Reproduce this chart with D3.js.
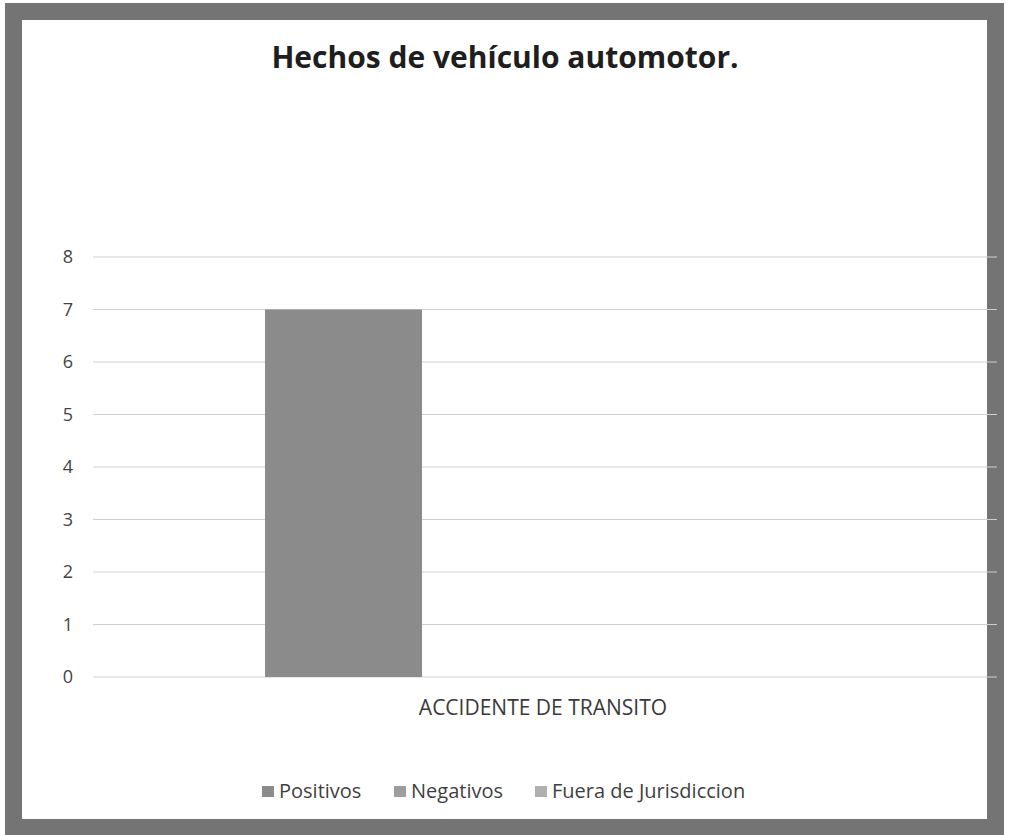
<!DOCTYPE html>
<html>
<head>
    <meta charset="UTF-8" />
    <script src="https://d3js.org/d3.v7.min.js"></script>
    <style>
        body { margin: 0; background: #ffffff; }
        svg { display: block; }
    </style>
</head>
<body>
<svg></svg>
<script>
    // Chart data
    let categories = ["ACCIDENTE DE TRANSITO"];
    let seriesNames = ["Positivos", "Negativos", "Fuera de Jurisdiccion"];
    let positivos = [7];
    let negativos = [0];
    let fuera = [0];
    let yTicks = [0, 1, 2, 3, 4, 5, 6, 7, 8];

    let seriesValues = [positivos, negativos, fuera];
    let seriesColors = ["#8b8b8b", "#9d9d9d", "#afafaf"];
    let fontFamily = "'Open Sans', 'Noto Sans', sans-serif";

    let width = 1009, height = 835;
    let margin = { top: 257, right: 16, bottom: 158, left: 93 };

    let svg = d3.select("svg")
        .attr("width", width)
        .attr("height", height);

    // scanned frame
    svg.append("rect")
        .attr("x", 0).attr("y", 0)
        .attr("width", width).attr("height", height)
        .attr("fill", "#ffffff");
    svg.append("rect")
        .attr("x", 13.5).attr("y", 11.5)
        .attr("width", 982).attr("height", 816)
        .attr("fill", "none")
        .attr("stroke", "#747474")
        .attr("stroke-width", 17);

    let x0 = d3.scaleBand()
        .domain(categories)
        .range([margin.left, width - margin.right]);

    let x1 = d3.scaleBand()
        .domain(seriesNames)
        .range([0, x0.bandwidth()])
        .paddingInner(0.213)
        .paddingOuter(0.862);

    let y = d3.scaleLinear()
        .domain([0, 8])
        .range([height - margin.bottom, margin.top]);

    // gridlines
    svg.append("g")
        .selectAll("line")
        .data(yTicks)
        .enter()
        .append("line")
        .attr("x1", margin.left)
        .attr("x2", width - margin.right + 4)
        .attr("y1", d => y(d))
        .attr("y2", d => y(d))
        .attr("stroke", "#cfcfcf")
        .attr("stroke-width", 1);

    // y axis labels
    let yAxis = svg.append("g")
        .attr("transform", "translate(" + margin.left + ",0)")
        .call(d3.axisLeft(y).tickValues(yTicks).tickSize(0).tickPadding(20));
    yAxis.select(".domain").remove();
    yAxis.selectAll("text")
        .attr("fill", "#444444")
        .style("font-family", fontFamily)
        .style("font-size", "18px");

    // bars
    let rows = [];
    categories.forEach((c, i) => {
        seriesNames.forEach((s, j) => {
            rows.push({ category: c, series: s, value: seriesValues[j][i], color: seriesColors[j] });
        });
    });

    svg.append("g")
        .selectAll("rect")
        .data(rows)
        .enter()
        .append("rect")
        .attr("x", d => x0(d.category) + x1(d.series))
        .attr("y", d => y(d.value))
        .attr("width", x1.bandwidth())
        .attr("height", d => y(0) - y(d.value))
        .attr("fill", d => d.color);

    // category axis
    let xAxis = svg.append("g")
        .attr("transform", "translate(0," + y(0) + ")")
        .call(d3.axisBottom(x0).tickSize(0).tickPadding(23));
    xAxis.select(".domain").remove();
    xAxis.selectAll("text")
        .attr("fill", "#3a3a3a")
        .style("font-family", fontFamily)
        .style("font-size", "21px");

    // title
    svg.append("text")
        .attr("x", 505)
        .attr("y", 68)
        .attr("text-anchor", "middle")
        .attr("fill", "#1e1e1e")
        .style("font-family", fontFamily)
        .style("font-size", "30px")
        .style("font-weight", "bold")
        .text("Hechos de vehículo automotor.");

    // legend
    let legendX = [262, 394, 535];
    let legend = svg.append("g")
        .selectAll("g")
        .data(seriesNames)
        .enter()
        .append("g")
        .attr("transform", (d, i) => "translate(" + legendX[i] + ",798)");
    legend.append("rect")
        .attr("x", 0).attr("y", -12)
        .attr("width", 12).attr("height", 11)
        .attr("fill", (d, i) => seriesColors[i]);
    legend.append("text")
        .attr("x", 17)
        .attr("y", 0)
        .attr("fill", "#3f3f3f")
        .style("font-family", fontFamily)
        .style("font-size", "20px")
        .text(d => d);
</script>
</body>
</html>
